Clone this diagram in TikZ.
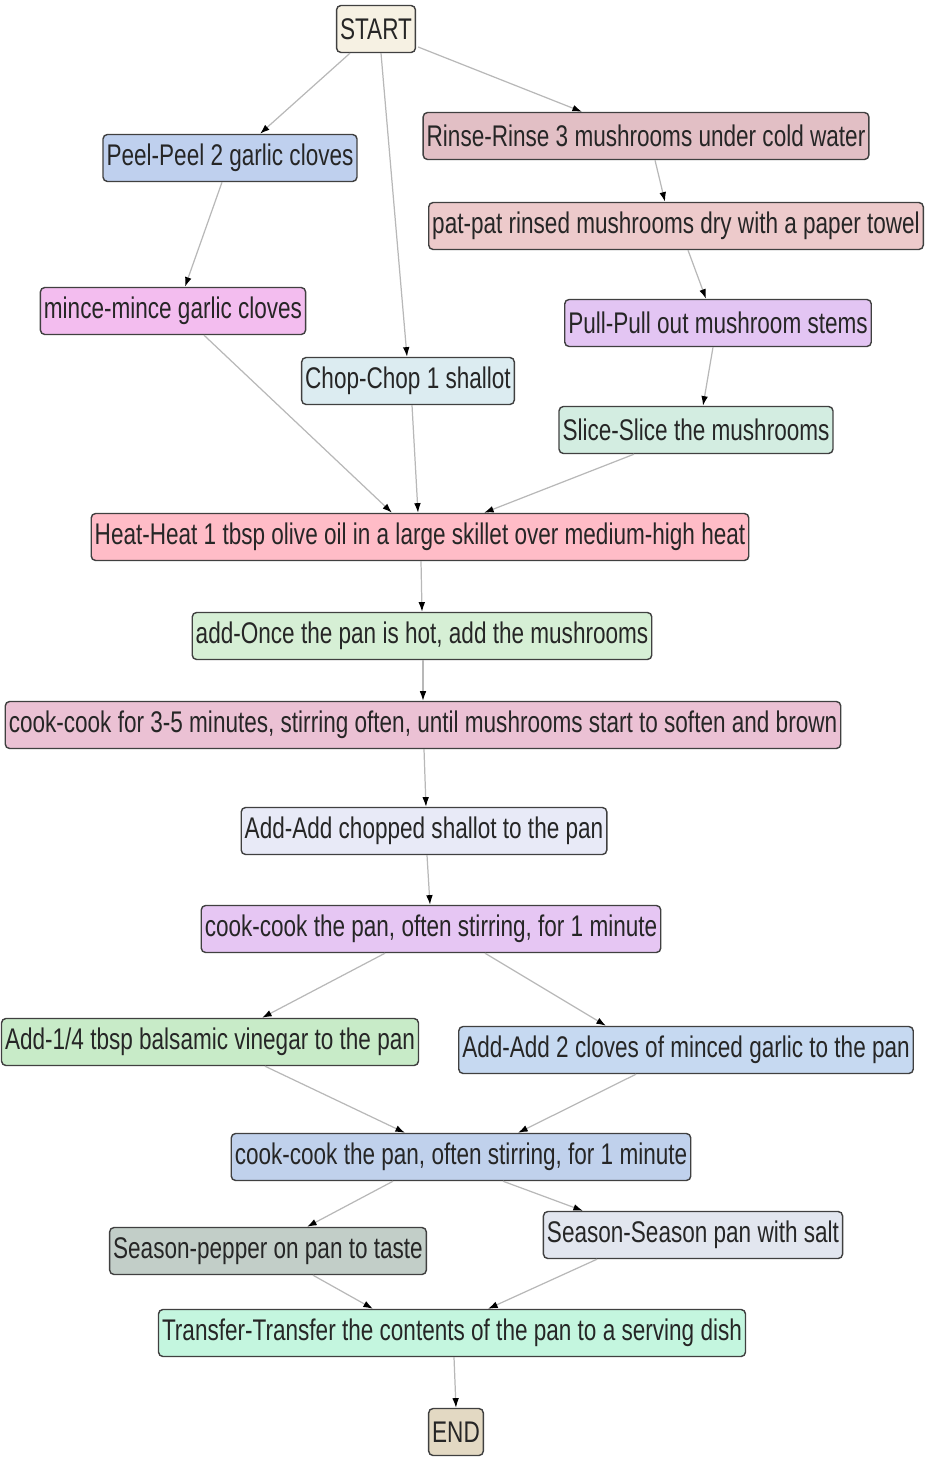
\documentclass[tikz,border=0pt]{standalone}
\usepackage{fontspec}
\setmainfont[FakeStretch=0.755]{Liberation Sans}
\usepackage{tikz}
\usetikzlibrary{%
  arrows.meta,%
  calc%
}
\definecolor{cStart}{HTML}{F6F1E3}
\definecolor{cPeel}{HTML}{BFD0EE}
\definecolor{cRinse}{HTML}{E2BFC5}
\definecolor{cPat}{HTML}{EDCACB}
\definecolor{cMince}{HTML}{F3BDEF}
\definecolor{cPull}{HTML}{E3C5F3}
\definecolor{cChop}{HTML}{DCECF1}
\definecolor{cSlice}{HTML}{D3EDE1}
\definecolor{cHeat}{HTML}{FFBCC7}
\definecolor{cAddA}{HTML}{D6EFD5}
\definecolor{cCookA}{HTML}{EBC1D4}
\definecolor{cAddB}{HTML}{E8EAF7}
\definecolor{cCookB}{HTML}{E6C6F3}
\definecolor{cVin}{HTML}{C8EBC8}
\definecolor{cGarl}{HTML}{C6D9F1}
\definecolor{cCookC}{HTML}{C0D1EC}
\definecolor{cSalt}{HTML}{E2E6EF}
\definecolor{cPepp}{HTML}{C2CEC8}
\definecolor{cTrans}{HTML}{C4F6DF}
\definecolor{cEnd}{HTML}{E3D9C3}
\tikzset{stepbox/.style = {draw=black!75, line width=0.8pt, rounded corners=2.5pt,
    minimum height=0.94cm, inner xsep=2pt, inner ysep=0pt, text=black!85,
    font=\fontsize{17}{18}\selectfont},%
  flow/.style = {draw=black!28, line width=0.7pt,
    -{Latex[black,length=5.5pt,width=3.8pt]}}}

\begin{document}
\begin{tikzpicture}[x=0.02cm, y=-0.02cm]
    \useasboundingbox (0,0) rectangle (932,1469);
    \node[stepbox, fill=cStart] (start) at (376,29) {START};
    \node[stepbox, fill=cPeel] (peel) at (230,158) {Peel-Peel 2 garlic cloves};
    \node[stepbox, fill=cRinse] (rinse) at (646,136) {Rinse-Rinse 3 mushrooms under cold water};
    \node[stepbox, fill=cPat] (pat) at (676,226) {pat-pat rinsed mushrooms dry with a paper towel};
    \node[stepbox, fill=cMince] (mince) at (173,311) {mince-mince garlic cloves};
    \node[stepbox, fill=cPull] (pull) at (718,323) {Pull-Pull out mushroom stems};
    \node[stepbox, fill=cChop] (chop) at (408,381) {Chop-Chop 1 shallot};
    \node[stepbox, fill=cSlice] (slice) at (696,430) {Slice-Slice the mushrooms};
    \node[stepbox, fill=cHeat] (heat) at (420,537) {Heat-Heat 1 tbsp olive oil in a large skillet over medium-high heat};
    \node[stepbox, fill=cAddA] (addpan) at (422,636) {add-Once the pan is hot, add the mushrooms};
    \node[stepbox, fill=cCookA] (cookmush) at (423,725) {cook-cook for 3-5 minutes, stirring often, until mushrooms start to soften and brown};
    \node[stepbox, fill=cAddB] (addshal) at (424,831) {Add-Add chopped shallot to the pan};
    \node[stepbox, fill=cCookB] (cookshal) at (431,929) {cook-cook the pan, often stirring, for 1 minute};
    \node[stepbox, fill=cVin] (addvin) at (210,1042) {Add-1/4 tbsp balsamic vinegar to the pan};
    \node[stepbox, fill=cGarl] (addgarl) at (686,1050) {Add-Add 2 cloves of minced garlic to the pan};
    \node[stepbox, fill=cCookC] (cookgarl) at (461,1157) {cook-cook the pan, often stirring, for 1 minute};
    \node[stepbox, fill=cSalt] (salt) at (693,1235) {Season-Season pan with salt};
    \node[stepbox, fill=cPepp] (pepper) at (268,1251) {Season-pepper on pan to taste};
    \node[stepbox, fill=cTrans] (transfer) at (452,1333) {Transfer-Transfer the contents of the pan to a serving dish};
    \node[stepbox, fill=cEnd] (end) at (456,1432) {END};
    \draw[flow] ($(start.south)+(-26,0)$) -- ($(peel.north)+(30,0)$);
    \draw[flow] ($(start.south)+(5,0)$) -- ($(chop.north)+(-1,0)$);
    \draw[flow] ($(start.east)+(2,18)$) -- ($(rinse.north)+(-64,0)$);
    \draw[flow] ($(peel.south)+(-8,0)$) -- ($(mince.north)+(12,0)$);
    \draw[flow] ($(rinse.south)+(9,0)$) -- ($(pat.north)+(-11,0)$);
    \draw[flow] ($(pat.south)+(12,0)$) -- ($(pull.north)+(-12,0)$);
    \draw[flow] ($(pull.south)+(-5,0)$) -- ($(slice.north)+(7,0)$);
    \draw[flow] ($(mince.south)+(31,0)$) -- ($(heat.north)+(-28,0)$);
    \draw[flow] ($(chop.south)+(4,0)$) -- ($(heat.north)+(-2,0)$);
    \draw[flow] ($(slice.south)+(-62,0)$) -- ($(heat.north)+(64,0)$);
    \draw[flow] ($(heat.south)+(1,0)$) -- (addpan.north);
    \draw[flow] ($(addpan.south)+(1,0)$) -- (cookmush.north);
    \draw[flow] ($(cookmush.south)+(1,0)$) -- ($(addshal.north)+(2,0)$);
    \draw[flow] ($(addshal.south)+(3,0)$) -- ($(cookshal.north)+(-1,0)$);
    \draw[flow] ($(cookshal.south)+(-46,0)$) -- ($(addvin.north)+(52,0)$);
    \draw[flow] ($(cookshal.south)+(54,0)$) -- ($(addgarl.north)+(-80,0)$);
    \draw[flow] ($(addvin.south)+(55,0)$) -- ($(cookgarl.north)+(-56,0)$);
    \draw[flow] ($(addgarl.south)+(-50,0)$) -- ($(cookgarl.north)+(57,0)$);
    \draw[flow] ($(cookgarl.south)+(-68,0)$) -- ($(pepper.north)+(39,0)$);
    \draw[flow] ($(cookgarl.south)+(42,0)$) -- ($(salt.north)+(-110,0)$);
    \draw[flow] ($(pepper.south)+(45,0)$) -- ($(transfer.north)+(-79,0)$);
    \draw[flow] ($(salt.south)+(-96,0)$) -- ($(transfer.north)+(36,0)$);
    \draw[flow] ($(transfer.south)+(2,0)$) -- (end.north);
  \end{tikzpicture}
\end{document}
